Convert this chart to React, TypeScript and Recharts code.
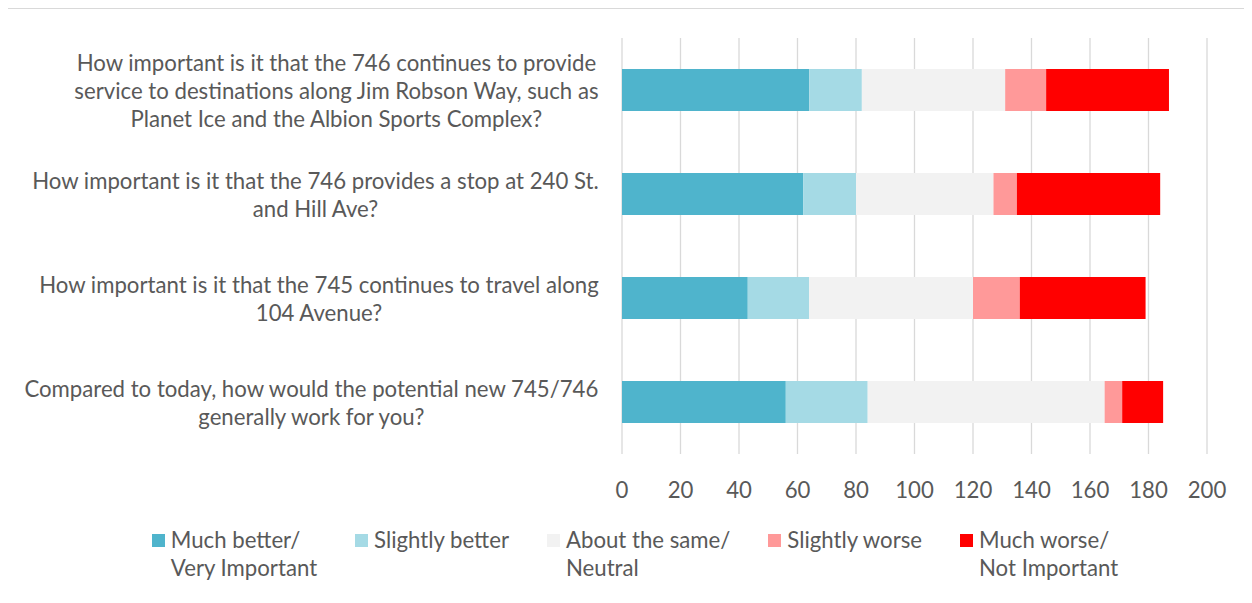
import React from 'react';
import { BarChart, Bar, XAxis, YAxis, CartesianGrid } from 'recharts';

const questions = ['q1', 'q2', 'q3', 'q4'];
const questionLines: string[][] = [
  [
    'How important is it that the 746 continues to provide',
    'service to destinations along Jim Robson Way, such as',
    'Planet Ice and the Albion Sports Complex?',
  ],
  ['How important is it that the 746 provides a stop at 240 St.', 'and Hill Ave?'],
  ['How important is it that the 745 continues to travel along', '104 Avenue?'],
  ['Compared to today, how would the potential new 745/746', 'generally work for you?'],
];

const muchBetter = [64, 62, 43, 56];
const slightlyBetter = [18, 18, 21, 28];
const aboutSame = [49, 47, 56, 81];
const slightlyWorse = [14, 8, 16, 6];
const muchWorse = [42, 49, 43, 14];

const xTicks = [0, 20, 40, 60, 80, 100, 120, 140, 160, 180, 200];

const seriesKeys = ['muchBetter', 'slightlyBetter', 'aboutSame', 'slightlyWorse', 'muchWorse'];
const seriesLabels: string[][] = [
  ['Much better/', 'Very Important'],
  ['Slightly better'],
  ['About the same/', 'Neutral'],
  ['Slightly worse'],
  ['Much worse/', 'Not Important'],
];
const seriesColors = ['#4FB4CC', '#A5DAE5', '#F2F2F2', '#FF9999', '#FF0000'];
const seriesValues = [muchBetter, slightlyBetter, aboutSame, slightlyWorse, muchWorse];

const data = questions.map((q, i) => {
  const row: any = { q };
  seriesKeys.forEach((k, j) => {
    row[k] = seriesValues[j][i];
  });
  return row;
});

const FONT = 'Lato, "Open Sans", sans-serif';
const TEXT = '#595959';
const FS = 22.2;

let canvasCtx: CanvasRenderingContext2D | null = null;
function measure(t: string): number {
  if (!canvasCtx) {
    const c = document.createElement('canvas');
    canvasCtx = c.getContext('2d');
  }
  if (!canvasCtx) return t.length * 11;
  canvasCtx.font = `${FS}px ${FONT}`;
  return canvasCtx.measureText(t).width;
}

const YTick = (props: any) => {
  const { y, payload } = props;
  const idx = questions.indexOf(payload.value);
  const lines = questionLines[idx] || [];
  const rightEdge = 591;
  const maxW = Math.max(...lines.map(measure));
  const cx = rightEdge - maxW / 2;
  const lh = 28;
  const startY = y - ((lines.length - 1) * lh) / 2;
  return (
    <g>
      {lines.map((l, i) => (
        <text
          key={i}
          x={cx}
          y={startY + i * lh}
          textAnchor="middle"
          dominantBaseline="central"
          fill={TEXT}
          fontSize={FS}
          fontFamily={FONT}
        >
          {l}
        </text>
      ))}
    </g>
  );
};

export default function App() {
  return (
    <div style={{ position: 'relative', width: 1244, height: 587, fontFamily: FONT, background: '#fff' }}>
      <BarChart
        width={1244}
        height={500}
        data={data}
        layout="vertical"
        margin={{ top: 30, right: 45, left: 0, bottom: 0 }}
        barSize={42}
      >
        <CartesianGrid horizontal={false} stroke="#D9D9D9" strokeWidth={1.3} />
        <XAxis
          type="number"
          domain={[0, 200]}
          ticks={xTicks}
          interval={0}
          axisLine={false}
          tickLine={false}
          tickMargin={22}
          height={54}
          tick={{ fill: TEXT, fontSize: FS, fontFamily: FONT }}
        />
        <YAxis
          type="category"
          dataKey="q"
          width={614}
          axisLine={false}
          tickLine={false}
          tick={<YTick />}
          interval={0}
        />
        {seriesKeys.map((k, j) => (
          <Bar key={k} dataKey={k} stackId="a" fill={seriesColors[j]} isAnimationActive={false} />
        ))}
      </BarChart>
      <div
        style={{
          position: 'absolute',
          top: 518,
          left: 5,
          width: 1244,
          display: 'flex',
          justifyContent: 'center',
          gap: 38,
          color: TEXT,
          fontSize: FS,
          lineHeight: '28px',
        }}
      >
        {seriesKeys.map((k, j) => (
          <div key={k} style={{ display: 'flex', alignItems: 'flex-start' }}>
            <div
              style={{
                width: 13,
                height: 13,
                background: seriesColors[j],
                marginTop: 8,
                marginRight: 6,
                flex: 'none',
              }}
            />
            <div style={{ whiteSpace: 'nowrap' }}>
              {seriesLabels[j].map((l, i) => (
                <div key={i}>{l}</div>
              ))}
            </div>
          </div>
        ))}
      </div>
      <div
        style={{
          position: 'absolute',
          left: -1,
          top: 0,
          width: 1245,
          height: 587,
          borderTop: '1.5px solid #D9D9D9',
          borderLeft: '1.5px solid #D9D9D9',
          boxSizing: 'border-box',
          pointerEvents: 'none',
          zIndex: 5,
        }}
      />
    </div>
  );
}
